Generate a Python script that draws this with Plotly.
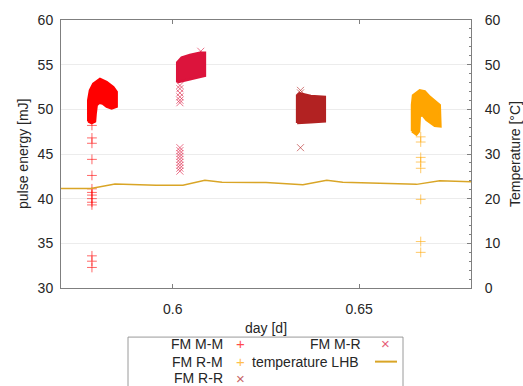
import plotly.graph_objects as go

# ---------------- data ----------------
# temperature LHB (right axis, degC)
temp_day = [0.570, 0.578, 0.5845, 0.590, 0.5955, 0.6027, 0.6086, 0.6132, 0.625,
            0.6349, 0.6413, 0.6456, 0.655, 0.6654, 0.6716, 0.680]
temp_c = [22.3, 22.3, 23.3, 23.1, 23.0, 23.0, 24.1, 23.7, 23.6,
          23.1, 24.1, 23.7, 23.5, 23.2, 24.0, 23.8]

# dense point clouds: outline of each cloud (day, pulse energy mJ)
mm_env_day = [0.57732, 0.57732, 0.57777, 0.57866, 0.58046, 0.58225, 0.58402, 0.58493,
              0.58493, 0.58359, 0.58225, 0.58118, 0.58027, 0.57957, 0.57930, 0.57912,
              0.57823, 0.57732]
mm_env_e = [48.65, 51.02, 52.12, 52.86, 53.41, 53.04, 52.49, 51.95,
            50.30, 50.11, 50.30, 50.66, 50.74, 50.47, 49.56, 48.65,
            48.46, 48.65]

mr_env_day = [0.60118, 0.60118, 0.60236, 0.60458, 0.60727, 0.60861, 0.60861, 0.60458, 0.60118]
mr_env_e = [53.04, 55.24, 55.79, 56.08, 56.34, 56.34, 53.77, 53.41, 53.04]

rr_env_day = [0.63335, 0.63335, 0.63400, 0.63700, 0.64078, 0.64078, 0.63700, 0.63335]
rr_env_e = [48.46, 51.57, 51.80, 51.50, 51.40, 48.65, 48.55, 48.46]

rm_env_day = [0.66418, 0.66418, 0.66445, 0.66625, 0.66759, 0.66893, 0.67161, 0.67180,
              0.67027, 0.66804, 0.66697, 0.66625, 0.66606, 0.66536, 0.66418]
rm_env_e = [47.55, 50.50, 51.57, 52.12, 52.00, 51.40, 50.47, 48.10,
            48.16, 48.82, 49.37, 49.20, 47.55, 47.18, 47.55]

# isolated points outside the clouds
mm_out_day = [0.5783] * 14
mm_out_e = [48.2, 46.8, 46.2, 44.4, 42.6, 41.1, 40.7, 40.4, 40.0, 39.6, 39.3, 33.6, 33.0, 32.3]

mr_out_day = [0.6019] * 15 + [0.6075]
mr_out_e = [52.67, 52.31, 51.84, 51.40, 51.02, 50.74,
            45.71, 45.38, 45.05, 44.73, 44.40, 44.07, 43.74, 43.41, 43.08, 56.5]

rr_out_day = [0.63426, 0.63426, 0.63426]
rr_out_e = [52.12, 51.84, 45.71]

rm_out_day = [0.66651] * 8
rm_out_e = [46.92, 46.34, 44.62, 44.10, 43.40, 39.92, 35.20, 33.99]

x_range = [0.57, 0.68]
y_range = [30, 60]
t_range = [0, 60]
x_tickvals = [0.6, 0.65]
x_ticktext = ["0.6", "0.65"]

# ---------------- styles ----------------
C_MM = "#ff0000"
C_MR = "#dc143c"
C_RR = "#b22222"
C_RM = "#ffa500"
C_T = "#d9a526"
FONT = "Liberation Sans, Arial, sans-serif"
TXT = "#262626"

fig = go.Figure()


def cloud(xs, ys, color):
    fig.add_trace(go.Scatter(x=xs, y=ys, mode="lines", fill="toself",
                             fillcolor=color, line=dict(color=color, width=2.5),
                             hoverinfo="skip", showlegend=False))


def pts(xs, ys, color, sym):
    fig.add_trace(go.Scatter(x=xs, y=ys, mode="markers",
                             marker=dict(symbol=sym, size=7, color=color, opacity=0.6,
                                         line=dict(color=color, width=1)),
                             showlegend=False))


cloud(mm_env_day, mm_env_e, C_MM)
cloud(mr_env_day, mr_env_e, C_MR)
cloud(rr_env_day, rr_env_e, C_RR)
cloud(rm_env_day, rm_env_e, C_RM)
pts(mm_out_day, mm_out_e, C_MM, "cross-thin-open")
pts(mr_out_day, mr_out_e, C_MR, "x-thin-open")
pts(rr_out_day, rr_out_e, C_RR, "x-thin-open")
pts(rm_out_day, rm_out_e, C_RM, "cross-thin-open")

fig.add_trace(go.Scatter(x=temp_day, y=temp_c, mode="lines", yaxis="y2",
                         line=dict(color=C_T, width=1.5), showlegend=False))

W, H = 523, 386
L, R, T, B = 61, 52, 15, 98
PW, PH = W - L - R, H - T - B


def px(x):
    return (x - L) / PW


def py(y):
    return (H - B - y) / PH


axcol = "#7f7f7f"
fig.update_layout(
    width=W, height=H, margin=dict(l=L, r=R, t=T, b=B),
    paper_bgcolor="white", plot_bgcolor="white", showlegend=False,
    font=dict(family=FONT, size=14, color=TXT),
    xaxis=dict(range=x_range, tickvals=x_tickvals, ticktext=x_ticktext,
               showline=True, linecolor=axcol, linewidth=1, mirror="ticks",
               ticks="inside", ticklen=4, tickcolor=axcol, showgrid=False,
               zeroline=False, ticklabelstandoff=8),
    yaxis=dict(range=y_range, dtick=5, showline=True, linecolor=axcol, linewidth=1,
               mirror=True, ticks="", showgrid=True, gridcolor="#ececec",
               zeroline=False, ticklabelstandoff=4),
    yaxis2=dict(range=t_range, dtick=10, overlaying="y", side="right",
                showline=True, linecolor=axcol, linewidth=1, ticks="inside",
                ticklen=4, tickcolor=axcol, showgrid=False, zeroline=False,
                minor=dict(dtick=2, ticks="inside", ticklen=2, tickcolor=axcol),
                ticklabelstandoff=10),
)

ann = []
ann.append(dict(text="day [d]", x=0.5, y=py(329), xref="paper", yref="paper",
                showarrow=False, xanchor="center", yanchor="middle"))
ann.append(dict(text="pulse energy [mJ]", x=px(23), y=0.5, xref="paper", yref="paper",
                showarrow=False, textangle=-90, xanchor="center", yanchor="middle"))
ann.append(dict(text="Temperature [°C]", x=px(515), y=0.5, xref="paper", yref="paper",
                showarrow=False, textangle=-90, xanchor="center", yanchor="middle"))

# legend (gnuplot style: text then sample)
rows = [345, 363, 380]
leg = [
    ("FM M-M", "+", C_MM, 225, 240, rows[0]),
    ("FM R-M", "+", C_RM, 225, 240, rows[1]),
    ("FM R-R", "×", C_RR, 225, 240, rows[2]),
    ("FM M-R", "×", C_MR, 363, 385, rows[0]),
]
for label, sym, col, tx, sx, ry in leg:
    ann.append(dict(text=label, x=px(tx), y=py(ry), xref="paper", yref="paper",
                    showarrow=False, xanchor="right", yanchor="middle"))
    ann.append(dict(text=sym, x=px(sx), y=py(ry), xref="paper", yref="paper",
                    showarrow=False, xanchor="center", yanchor="middle",
                    font=dict(color=col, size=15), opacity=0.7))
ann.append(dict(text="temperature LHB", x=px(361), y=py(rows[1]), xref="paper",
                yref="paper", showarrow=False, xanchor="right", yanchor="middle"))
fig.update_layout(annotations=ann)

fig.add_shape(type="rect", xref="paper", yref="paper", x0=px(128), x1=px(403),
              y0=py(338), y1=py(400), line=dict(color="#9a9a9a", width=1))
fig.add_shape(type="line", xref="paper", yref="paper", x0=px(375), x1=px(397),
              y0=py(rows[1]), y1=py(rows[1]), line=dict(color=C_T, width=2))

fig.write_html("out.html")
